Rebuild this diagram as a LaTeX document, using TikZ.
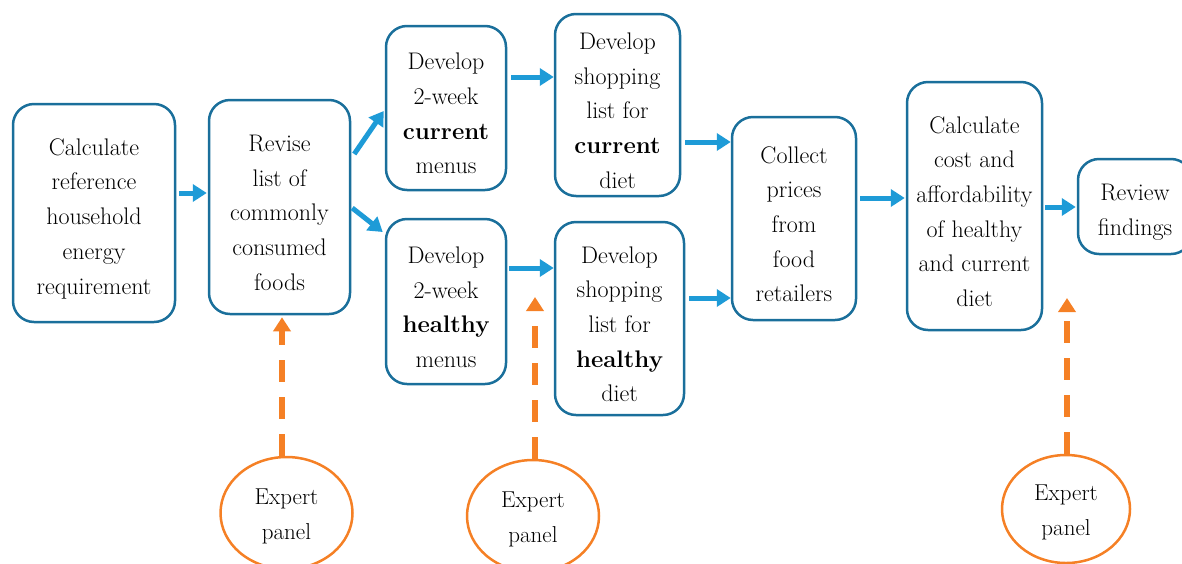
\documentclass[tikz,border=0pt]{standalone}
\usepackage{fontspec}
\usetikzlibrary{arrows.meta,calc,shapes.geometric}
\definecolor{boxblue}{HTML}{1A6F9B}
\definecolor{arrblue}{HTML}{1E9BD7}
\definecolor{exporange}{HTML}{F58025}
\newcommand{\firstlinestrut}{\rule{0pt}{28pt}}
\newcommand{\panelstrut}{\rule{0pt}{22pt}}
\tikzset{
  stepbox/.style={draw=boxblue, line width=2.5pt, rounded corners=21pt, align=center,
    inner sep=0pt, font=\fontsize{24}{34.7}\selectfont},
  panel/.style={ellipse, draw=exporange, line width=2.5pt, align=center, inner sep=0pt,
    minimum width=132pt, minimum height=112pt, font=\fontsize{23}{34.5}\selectfont},
  blarrow/.style={draw=arrblue, line width=5pt, -{Triangle[length=14pt,width=17pt]}},
  orarrow/.style={draw=exporange, line width=5.5pt, dash pattern=on 22pt off 15pt,
    -{Triangle[length=14pt,width=17pt]}}
}
\begin{document}
\begin{tikzpicture}[x=1pt,y=-1pt]
\useasboundingbox (0,0) rectangle (1182,563);
% boxes
\node (b1) [stepbox, minimum width=162pt, minimum height=218pt] at (94,213)
  {\firstlinestrut Calculate\\reference\\household\\energy\\requirement};
\node (b2) [stepbox, minimum width=141pt, minimum height=214pt] at (279.5,207)
  {\firstlinestrut Revise\\list of\\commonly\\consumed\\foods};
\node (b3) [stepbox, minimum width=120pt, minimum height=164pt] at (446,108)
  {\firstlinestrut Develop\\2-week\\\textbf{current}\\menus};
\node (b4) [stepbox, minimum width=120pt, minimum height=165pt] at (446,301.5)
  {\firstlinestrut Develop\\2-week\\\textbf{healthy}\\menus};
\node (b5) [stepbox, minimum width=125pt, minimum height=182pt] at (617.5,105)
  {\firstlinestrut Develop\\shopping\\list for\\\textbf{current}\\diet};
\node (b6) [stepbox, minimum width=129pt, minimum height=193pt] at (619.5,318.5)
  {\firstlinestrut Develop\\shopping\\list for\\\textbf{healthy}\\diet};
\node (b7) [stepbox, minimum width=124pt, minimum height=203pt] at (794,218.5)
  {\firstlinestrut Collect\\prices\\from\\food\\retailers};
\node (b8) [stepbox, minimum width=135pt, minimum height=248pt] at (974.5,206)
  {\firstlinestrut Calculate\\cost and\\affordability\\of healthy\\and current\\diet};
\node (b9) [stepbox, minimum width=114pt, minimum height=95pt] at (1135,206.5)
  {\firstlinestrut Review\\findings};
% expert panels
\node (e1) [panel] at (286.5,513) {\panelstrut Expert\\panel};
\node (e2) [panel] at (533,516) {\panelstrut Expert\\panel};
\node (e3) [panel, minimum width=128pt, minimum height=108pt] at (1066,509) {\panelstrut Expert\\panel};
\coordinate (t2) at (535,297);
\coordinate (t3) at (1067,298);
% blue arrows
\draw[blarrow] ($(b1.east)+(3,-20)$) -- ($(b2.west)+(-1,-14)$);
\draw[blarrow] ($(b2.east)+(3,-53)$) -- ($(b3.west)+(-1,3)$);
\draw[blarrow] ($(b2.east)+(1,1)$) -- ($(b4.west)+(-2,-69.5)$);
\draw[blarrow] ($(b3.east)+(4,-31)$) -- ($(b5.west)+(0,-28)$);
\draw[blarrow] ($(b4.east)+(2,-33.5)$) -- ($(b6.west)+(0,-50.5)$);
\draw[blarrow] ($(b5.east)+(4,37)$) -- ($(b7.west)+(0,-76.5)$);
\draw[blarrow] ($(b6.east)+(4,-20.5)$) -- ($(b7.west)+(0,79.5)$);
\draw[blarrow] ($(b7.east)+(3,-20.5)$) -- ($(b8.west)+(-1,-8)$);
\draw[blarrow] ($(b8.east)+(2,1)$) -- ($(b9.west)+(-1,0.5)$);
% orange dashed arrows
\draw[orarrow] ($(e1.north)+(-4.5,0)$) -- ($(b2.south)+(2.5,2)$);
\draw[orarrow] ($(e2.north)+(2,0)$) -- (t2);
\draw[orarrow] ($(e3.north)+(1,0)$) -- (t3);
\end{tikzpicture}
\end{document}
